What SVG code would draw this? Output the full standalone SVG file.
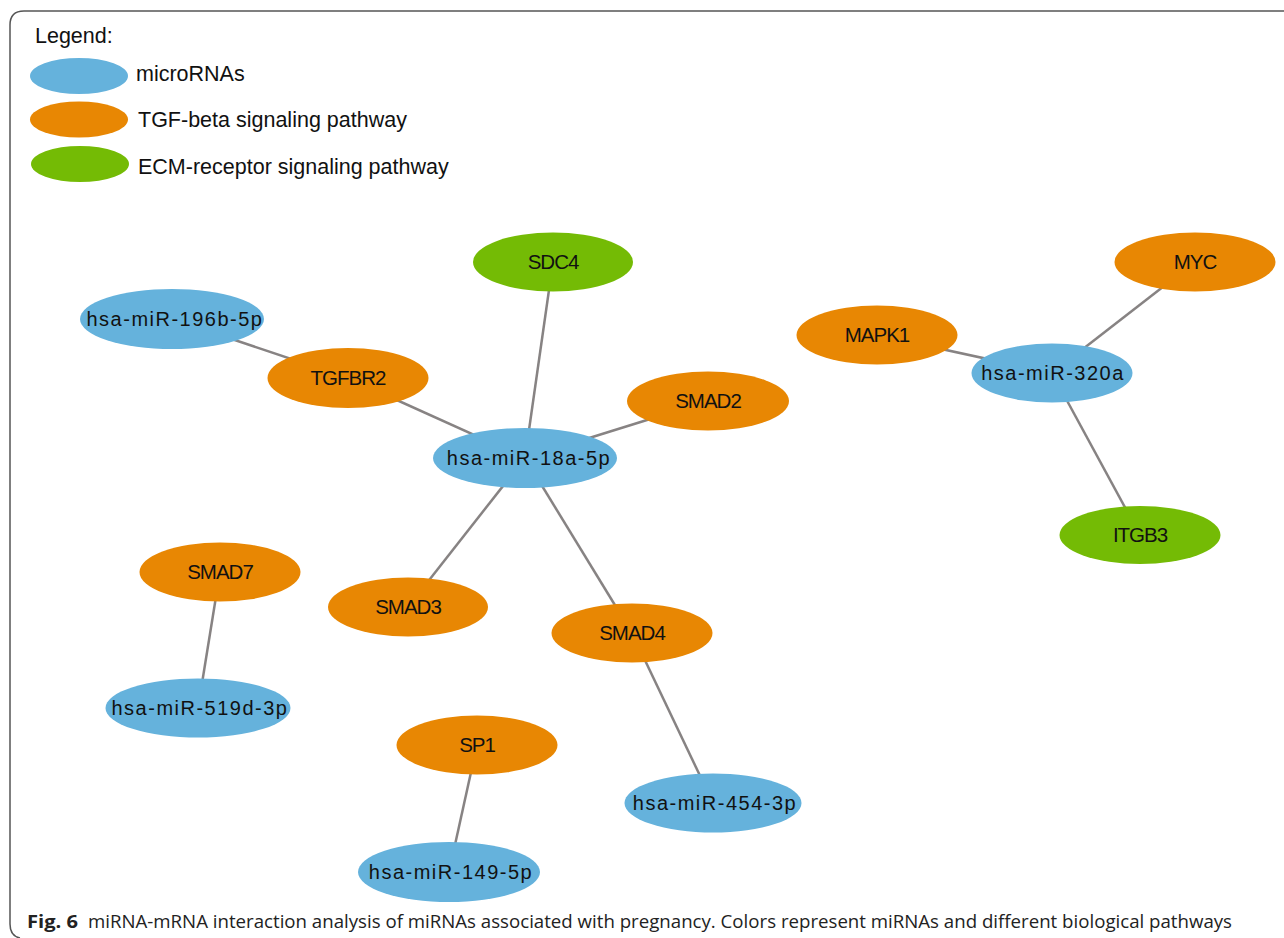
<svg xmlns="http://www.w3.org/2000/svg" width="1284" height="938" viewBox="0 0 1284 938">
<style>
  .mir { fill: #65b2dc; }
  .tgf { fill: #e88703; }
  .ecm { fill: #74bb05; }
  .edge { stroke: #878383; stroke-width: 2.5; fill: none; }
  .lbl-mir { font-family: "Liberation Sans", Arial, sans-serif; font-size: 20px; letter-spacing: 1.5px; fill: #111; text-anchor: middle; }
  .lbl-gene { font-family: "Liberation Sans", Arial, sans-serif; font-size: 20.5px; letter-spacing: -1px; fill: #111; text-anchor: middle; }
  .leg { font-family: "Liberation Sans", Arial, sans-serif; font-size: 21.5px; fill: #111; }
  .cap { font-family: "Open Sans", "Noto Sans", sans-serif; font-size: 18px; fill: #222; }
</style>
<rect width="1284" height="938" fill="#ffffff"/>
<path d="M1284,11 H24 Q10,11 10,25 V924 Q10,936 20,938" fill="none" stroke="#555" stroke-width="1.5"/>

<g id="legend">
  <text class="leg" x="35" y="43" font-size="20.5">Legend:</text>
  <ellipse class="mir" cx="79" cy="76" rx="49" ry="18"/>
  <text class="leg" x="136" y="81">microRNAs</text>
  <ellipse class="tgf" cx="79" cy="119.5" rx="49" ry="18"/>
  <text class="leg" x="138" y="127" font-size="22">TGF-beta signaling pathway</text>
  <ellipse class="ecm" cx="80" cy="164" rx="49" ry="18"/>
  <text class="leg" x="138" y="174" font-size="22">ECM-receptor signaling pathway</text>
</g>

<g id="connectors">
  <line class="edge" x1="172" y1="319" x2="348" y2="378"/>
  <line class="edge" x1="348" y1="378" x2="525" y2="458"/>
  <line class="edge" x1="553" y1="262" x2="525" y2="458"/>
  <line class="edge" x1="708" y1="401" x2="525" y2="458"/>
  <line class="edge" x1="525" y1="458" x2="408" y2="607"/>
  <line class="edge" x1="525" y1="458" x2="632" y2="633"/>
  <line class="edge" x1="877" y1="335" x2="1052" y2="373"/>
  <line class="edge" x1="1195" y1="262" x2="1052" y2="373"/>
  <line class="edge" x1="1052" y1="373" x2="1140" y2="535"/>
  <line class="edge" x1="220" y1="572" x2="198" y2="708"/>
  <line class="edge" x1="477" y1="745" x2="449" y2="872"/>
  <line class="edge" x1="632" y1="633" x2="713" y2="803"/>
</g>

<g id="node-SDC4"><ellipse class="ecm" cx="553" cy="262" rx="80" ry="29.5"/><text class="lbl-gene" x="553" y="269">SDC4</text></g>
<g id="node-hsa-miR-196b-5p"><ellipse class="mir" cx="172" cy="319" rx="92" ry="30"/><text class="lbl-mir" x="175" y="326">hsa-miR-196b-5p</text></g>
<g id="node-TGFBR2"><ellipse class="tgf" cx="348" cy="378" rx="80.5" ry="30"/><text class="lbl-gene" x="348" y="385">TGFBR2</text></g>
<g id="node-hsa-miR-18a-5p"><ellipse class="mir" cx="525" cy="458" rx="92" ry="30"/><text class="lbl-mir" x="529" y="465">hsa-miR-18a-5p</text></g>
<g id="node-SMAD2"><ellipse class="tgf" cx="708" cy="401" rx="81" ry="29.5"/><text class="lbl-gene" x="708" y="408">SMAD2</text></g>
<g id="node-MAPK1"><ellipse class="tgf" cx="877" cy="335" rx="80.5" ry="29.5"/><text class="lbl-gene" x="877" y="342">MAPK1</text></g>
<g id="node-MYC"><ellipse class="tgf" cx="1195" cy="262" rx="80.5" ry="29.5"/><text class="lbl-gene" x="1195" y="269">MYC</text></g>
<g id="node-hsa-miR-320a"><ellipse class="mir" cx="1052" cy="373" rx="80.5" ry="29.5"/><text class="lbl-mir" x="1053" y="380">hsa-miR-320a</text></g>
<g id="node-ITGB3"><ellipse class="ecm" cx="1140" cy="535" rx="80.5" ry="29"/><text class="lbl-gene" x="1140" y="542">ITGB3</text></g>
<g id="node-SMAD7"><ellipse class="tgf" cx="220" cy="572" rx="80.5" ry="29.5"/><text class="lbl-gene" x="220" y="579">SMAD7</text></g>
<g id="node-SMAD3"><ellipse class="tgf" cx="408" cy="607" rx="80" ry="29.5"/><text class="lbl-gene" x="408" y="614">SMAD3</text></g>
<g id="node-hsa-miR-519d-3p"><ellipse class="mir" cx="198" cy="708" rx="92.5" ry="29.5"/><text class="lbl-mir" x="200" y="715">hsa-miR-519d-3p</text></g>
<g id="node-SMAD4"><ellipse class="tgf" cx="632" cy="633" rx="80.5" ry="29.5"/><text class="lbl-gene" x="632" y="640">SMAD4</text></g>
<g id="node-SP1"><ellipse class="tgf" cx="477" cy="745" rx="80.5" ry="29.5"/><text class="lbl-gene" x="477" y="752">SP1</text></g>
<g id="node-hsa-miR-454-3p"><ellipse class="mir" cx="713" cy="803" rx="88.5" ry="29.5"/><text class="lbl-mir" x="715" y="810">hsa-miR-454-3p</text></g>
<g id="node-hsa-miR-149-5p"><ellipse class="mir" cx="449" cy="872" rx="91" ry="30"/><text class="lbl-mir" x="451" y="879">hsa-miR-149-5p</text></g>

<g id="caption">
  <text class="cap" x="27" y="928" font-weight="bold" textLength="51" lengthAdjust="spacingAndGlyphs">Fig. 6</text>
  <text class="cap" x="88" y="928" textLength="1144" lengthAdjust="spacingAndGlyphs">miRNA-mRNA interaction analysis of miRNAs associated with pregnancy. Colors represent miRNAs and different biological pathways</text>
</g>
</svg>
